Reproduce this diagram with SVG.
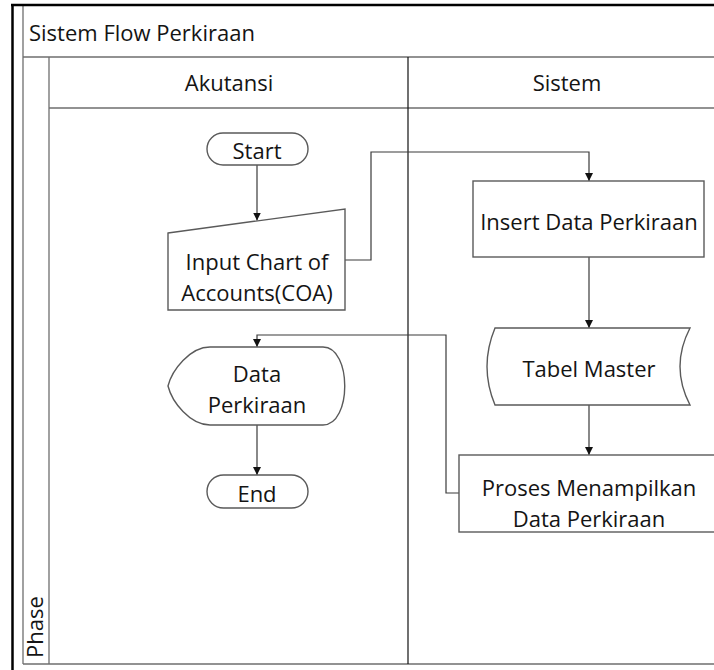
<svg xmlns="http://www.w3.org/2000/svg" width="714" height="670" viewBox="0 0 714 670">
<style>
  .frame { stroke: #000; stroke-width: 2.5; fill: none; }
  .lane { stroke: #6e6e6e; stroke-width: 1.3; fill: none; }
  .div { stroke: #111; stroke-width: 1.2; fill: none; }
  .shape { fill: #fff; stroke: #5a5a5a; stroke-width: 1.4; }
  .conn { fill: none; stroke: #3a3a3a; stroke-width: 1.2; marker-end: url(#arrow); }
  text { font-family: "Open Sans", "Noto Sans", "Liberation Sans", sans-serif; font-size: 22px; fill: #141414; }
  .c { text-anchor: middle; }
</style>
<defs>
  <marker id="arrow" markerUnits="userSpaceOnUse" markerWidth="8" markerHeight="8" refX="8" refY="4" orient="auto">
    <path d="M0,0 L8,4 L0,8 Z" fill="#111"/>
  </marker>
</defs>
<rect width="714" height="670" fill="#fff"/>

<g id="swimlane">
  <line class="lane" x1="23" y1="5" x2="23" y2="664"/>
  <line class="lane" x1="23" y1="57" x2="714" y2="57"/>
  <line class="lane" x1="49" y1="57" x2="49" y2="664"/>
  <line class="lane" x1="49" y1="108" x2="714" y2="108"/>
  <line class="lane" x1="23" y1="664" x2="714" y2="664"/>
  <line class="div" x1="408" y1="57" x2="408" y2="664"/>
  <line class="frame" x1="12.5" y1="4" x2="12.5" y2="670"/>
  <line class="frame" x1="11" y1="5" x2="714" y2="5"/>
  <text x="29" y="41">Sistem Flow Perkiraan</text>
  <text class="c" x="229" y="91">Akutansi</text>
  <text class="c" x="567" y="91">Sistem</text>
  <text transform="translate(43,658) rotate(-90)">Phase</text>
</g>

<g id="connectors">
  <path class="conn" d="M257,165 L257,220.5"/>
  <path class="conn" d="M345,260 L371,260 L371,152 L589,152 L589,181"/>
  <path class="conn" d="M589,257 L589,328"/>
  <path class="conn" d="M589,405 L589,455"/>
  <path class="conn" d="M459,493 L446,493 L446,335 L257,335 L257,347"/>
  <path class="conn" d="M257,425 L257,475"/>
</g>

<g id="start">
  <rect class="shape" x="207" y="133" width="101" height="32" rx="16" ry="16"/>
  <text class="c" x="257" y="159">Start</text>
</g>

<g id="input-coa">
  <polygon class="shape" points="168,233 345,209 345,310 168,310"/>
  <text class="c" x="257" y="270">Input Chart of</text>
  <text class="c" x="257" y="301">Accounts(COA)</text>
</g>

<g id="insert-data">
  <rect class="shape" x="473" y="181" width="231" height="76"/>
  <text class="c" x="589" y="230">Insert Data Perkiraan</text>
</g>

<g id="tabel-master">
  <path class="shape" d="M495,328 L690,328 Q670,366.5 690,405 L495,405 Q479,366.5 495,328 Z"/>
  <text class="c" x="589" y="377">Tabel Master</text>
</g>

<g id="proses">
  <rect class="shape" x="459" y="455" width="270" height="77"/>
  <text class="c" x="589" y="496">Proses Menampilkan</text>
  <text class="c" x="589" y="527">Data Perkiraan</text>
</g>

<g id="data-perkiraan">
  <path class="shape" d="M210,347 L323,347 C352,347 352,425 323,425 L210,425 C190,425 172,402 168,386 C172,370 190,347 210,347 Z"/>
  <text class="c" x="257" y="382">Data</text>
  <text class="c" x="257" y="413">Perkiraan</text>
</g>

<g id="end">
  <rect class="shape" x="207" y="475" width="101" height="33" rx="16.5" ry="16.5"/>
  <text class="c" x="257" y="502">End</text>
</g>
</svg>
